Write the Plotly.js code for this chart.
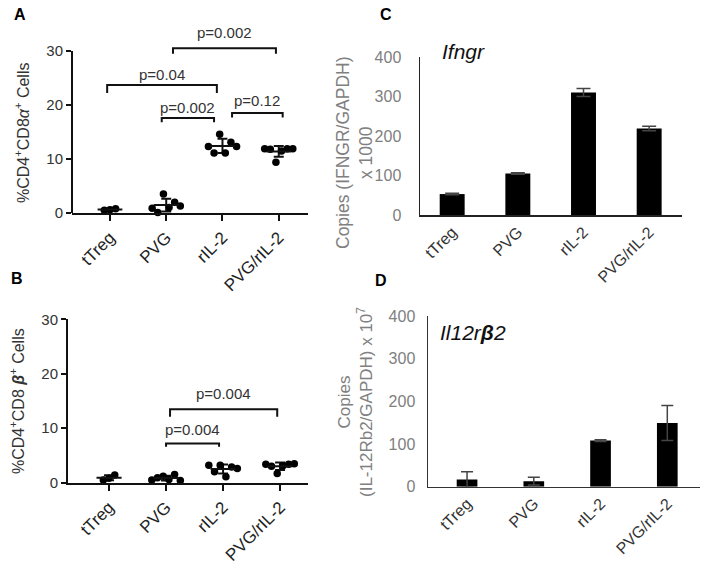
<!DOCTYPE html>
<html><head><meta charset="utf-8">
<script src="https://cdn.plot.ly/plotly-3.0.1.min.js"></script>
<style>html,body{margin:0;padding:0;background:#fff}#chart{width:708px;height:580px}</style>
</head><body><div id="chart"></div>
<script>
// ---- data ----
const categories = ['tTreg', 'PVG', 'rIL-2', 'PVG/rIL-2'];

// Panel A: %CD4+CD8a+ cells (individual animals)
const cd8a_tTreg = [0.5, 0.6, 0.8];
const cd8a_PVG = [0.9, 0.1, 3.5, 1.0, 2.0, 1.3];
const cd8a_rIL2 = [12.3, 11.1, 14.6, 11.1, 13.1, 12.3];
const cd8a_PVGrIL2 = [11.9, 11.8, 9.4, 11.5, 11.9, 11.9];

// Panel B: %CD4+CD8b+ cells
const cd8b_tTreg = [0.5, 0.8, 1.4];
const cd8b_PVG = [0.5, 0.9, 1.2, 0.6, 1.5, 0.4];
const cd8b_rIL2 = [3.2, 2.0, 3.2, 1.1, 2.9, 2.6];
const cd8b_PVGrIL2 = [3.4, 3.0, 1.7, 3.1, 3.4, 3.5];

// Panel C: Ifngr copies (IFNGR/GAPDH) x 1000
const ifngrMean = [53, 105, 310, 219];
const ifngrErr = [2, 2, 10, 6];

// Panel D: Il12rb2 copies (IL-12Rb2/GAPDH) x 10^7
const il12Mean = [17, 13, 108, 149];
const il12Err = [18, 9, 2, 41];

// significance brackets: from/to category, bar level, tip drop, label level
const pLabelsA = ['p=0.002', 'p=0.04', 'p=0.002', 'p=0.12'];
const pFromA = [1.12, -0.05, 0.92, 2.17];
const pToA = [2.95, 1.90, 1.85, 3.07];
const pLevelA = [30.5, 23.7, 17.6, 18.5];
const pDropA = [1.0, 1.5, 0.8, 0.8];
const pTextA = [33.4, 25.6, 19.5, 20.8];

const pLabelsB = ['p=0.004', 'p=0.004'];
const pFromB = [1.07, 1.0];
const pToB = [2.95, 1.93];
const pLevelB = [13.5, 7.2];
const pDropB = [1.4, 0.6];
const pTextB = [16.4, 9.7];

// ---- build ----
const FONT = 'Liberation Sans, Arial, Helvetica, sans-serif';
const traces = [];
const shapes = [];
const annotations = [];

function mean(a) { return a.reduce((s, v) => s + v, 0) / a.length; }
function sd(a) { const m = mean(a); return Math.sqrt(a.reduce((s, v) => s + (v - m) * (v - m), 0) / (a.length - 1)); }

function scatterPanel(groups, xa, ya) {
  groups.forEach((g, i) => {
    const m = mean(g), s = sd(g);
    traces.push({
      type: 'scatter', mode: 'markers', x: [i], y: [m], xaxis: xa, yaxis: ya,
      marker: { size: 1, color: 'rgba(0,0,0,0)' },
      error_y: { type: 'data', array: [s], visible: true, color: '#111', thickness: 2, width: 5 },
      cliponaxis: false, hoverinfo: 'skip', showlegend: false
    });
    shapes.push({ type: 'line', xref: xa, yref: ya, x0: i - 0.22, x1: i + 0.22, y0: m, y1: m,
      line: { color: '#111', width: 2 } });
    const n = g.length;
    traces.push({
      type: 'scatter', mode: 'markers', xaxis: xa, yaxis: ya,
      x: g.map((v, j) => i + (j - (n - 1) / 2) * 0.1), y: g,
      marker: { size: 7.5, color: '#000' }, cliponaxis: false, showlegend: false
    });
  });
}

function brackets(labels, from, to, level, drop, textY, xa, ya) {
  labels.forEach((lab, k) => {
    shapes.push({ type: 'path', xref: xa, yref: ya,
      path: `M ${from[k]},${level[k] - drop[k]} L ${from[k]},${level[k]} L ${to[k]},${level[k]} L ${to[k]},${level[k] - drop[k]}`,
      line: { color: '#111', width: 2 } });
    annotations.push({ xref: xa, yref: ya, x: (from[k] + to[k]) / 2, y: textY[k], text: lab,
      showarrow: false, xanchor: 'center', yanchor: 'middle', font: { size: 15, color: '#333', family: FONT } });
  });
}

scatterPanel([cd8a_tTreg, cd8a_PVG, cd8a_rIL2, cd8a_PVGrIL2], 'x', 'y');
scatterPanel([cd8b_tTreg, cd8b_PVG, cd8b_rIL2, cd8b_PVGrIL2], 'x2', 'y2');
brackets(pLabelsA, pFromA, pToA, pLevelA, pDropA, pTextA, 'x', 'y');
brackets(pLabelsB, pFromB, pToB, pLevelB, pDropB, pTextB, 'x2', 'y2');

// A y-axis line only up to 30
const domAx = [72 / 708, 308 / 708];
shapes.push({ type: 'line', xref: 'paper', yref: 'y', x0: domAx[0], x1: domAx[0], y0: 0, y1: 30,
  line: { color: '#111', width: 2 } });

function barPanel(vals, errs, xa, ya, w, capw) {
  traces.push({
    type: 'bar', x: vals.map((v, i) => i), y: vals, xaxis: xa, yaxis: ya, width: w,
    marker: { color: '#000', line: { width: 0 } },
    error_y: { type: 'data', array: errs, visible: true, color: '#444', thickness: 1.5, width: capw },
    showlegend: false
  });
}
barPanel(ifngrMean, ifngrErr, 'x3', 'y3', 0.38, 7);
barPanel(il12Mean, il12Err, 'x4', 'y4', 0.31, 6);

const px = v => v / 708, py = v => 1 - v / 580;

const catAxis = (dom, rng, anchor, extra) => Object.assign({
  domain: dom, range: rng, anchor: anchor, tickmode: 'array', tickvals: [0, 1, 2, 3], ticktext: categories,
  tickangle: -45, showgrid: false, zeroline: false, showline: true, fixedrange: true,
  tickfont: { size: 17, color: '#222', family: FONT }
}, extra);

function label(x, y, text, size, color, extra) {
  return Object.assign({ xref: 'paper', yref: 'paper', x: px(x), y: py(y), text: text, showarrow: false,
    xanchor: 'center', yanchor: 'middle', font: { size: size, color: color, family: FONT } }, extra || {});
}

const layout = {
  width: 708, height: 580, margin: { l: 0, r: 0, t: 0, b: 0 },
  paper_bgcolor: '#fff', plot_bgcolor: 'rgba(0,0,0,0)', showlegend: false,
  font: { family: FONT, color: '#222' },
  xaxis: catAxis(domAx, [-0.675, 3.52], 'y', { ticks: 'outside', ticklen: 6, tickwidth: 2, tickcolor: '#111', linewidth: 2, linecolor: '#111' }),
  yaxis: { domain: [py(213), py(29.4)], range: [0, 34], anchor: 'x', tickvals: [0, 10, 20, 30], ticks: 'outside',
    ticklen: 5, tickwidth: 2, tickcolor: '#111', showline: false, showgrid: false, zeroline: false, fixedrange: true,
    tickfont: { size: 15, color: '#333', family: FONT } },
  xaxis2: catAxis([px(68), px(308)], [-0.72, 3.49], 'y2', { ticks: 'outside', ticklen: 6, tickwidth: 2, tickcolor: '#111', linewidth: 2, linecolor: '#111' }),
  yaxis2: { domain: [py(482.7), py(319.3)], range: [0, 30], anchor: 'x2', tickvals: [0, 10, 20, 30], ticks: 'outside',
    ticklen: 5, tickwidth: 2, tickcolor: '#111', showline: true, linewidth: 2, linecolor: '#111', showgrid: false, zeroline: false, fixedrange: true,
    tickfont: { size: 15, color: '#333', family: FONT } },
  xaxis3: catAxis([px(420), px(682)], [-0.49, 3.5], 'y3', { ticks: '', linewidth: 1.5, linecolor: '#222', tickfont: { size: 16, color: '#333', family: FONT } }),
  yaxis3: { domain: [py(215), py(57)], range: [0, 400], anchor: 'x3', dtick: 100, ticks: 'outside', ticklen: 14, tickcolor: 'rgba(0,0,0,0)',
    showline: true, linewidth: 1.5, linecolor: '#222', showgrid: false, zeroline: false, fixedrange: true,
    tickfont: { size: 16, color: '#808080', family: FONT } },
  xaxis4: catAxis([px(428), px(700)], [-0.585, 3.49], 'y4', { ticks: '', linewidth: 1.5, linecolor: '#333', tickfont: { size: 16, color: '#333', family: FONT } }),
  yaxis4: { domain: [py(486.7), py(316)], range: [0, 400], anchor: 'x4', dtick: 100, ticks: 'outside', ticklen: 8, tickcolor: 'rgba(0,0,0,0)',
    showline: true, linewidth: 1.5, linecolor: '#333', showgrid: false, zeroline: false, fixedrange: true,
    tickfont: { size: 16, color: '#808080', family: FONT } },
  shapes: shapes,
  annotations: annotations.concat([
    label(20, 15, '<b>A</b>', 16, '#000'),
    label(17, 278, '<b>B</b>', 16, '#000'),
    label(386, 15, '<b>C</b>', 16, '#000'),
    label(381, 280, '<b>D</b>', 16, '#000'),
    label(22, 133, '%CD4<sup>+</sup>CD8<i>α</i><sup>+</sup> Cells', 16, '#333', { textangle: -90 }),
    label(17, 401, '%CD4<sup>+</sup>CD8 <b><i>β</i></b><sup>+</sup> Cells', 16, '#333', { textangle: -90 }),
    label(354, 153, 'Copies (IFNGR/GAPDH)<br>x 1000', 17.5, '#808080', { textangle: -90 }),
    label(355, 402, 'Copies<br>(IL-12Rb2/GAPDH) x 10<sup>7</sup>', 17, '#808080', { textangle: -90 }),
    label(440, 52, '<i>Ifngr</i>', 21, '#111', { xanchor: 'left' }),
    label(438, 332, '<i>Il12r<b>β</b>2</i>', 21, '#111', { xanchor: 'left' })
  ])
};

Plotly.newPlot('chart', traces, layout, { displayModeBar: false, staticPlot: true });
</script>
</body></html>
